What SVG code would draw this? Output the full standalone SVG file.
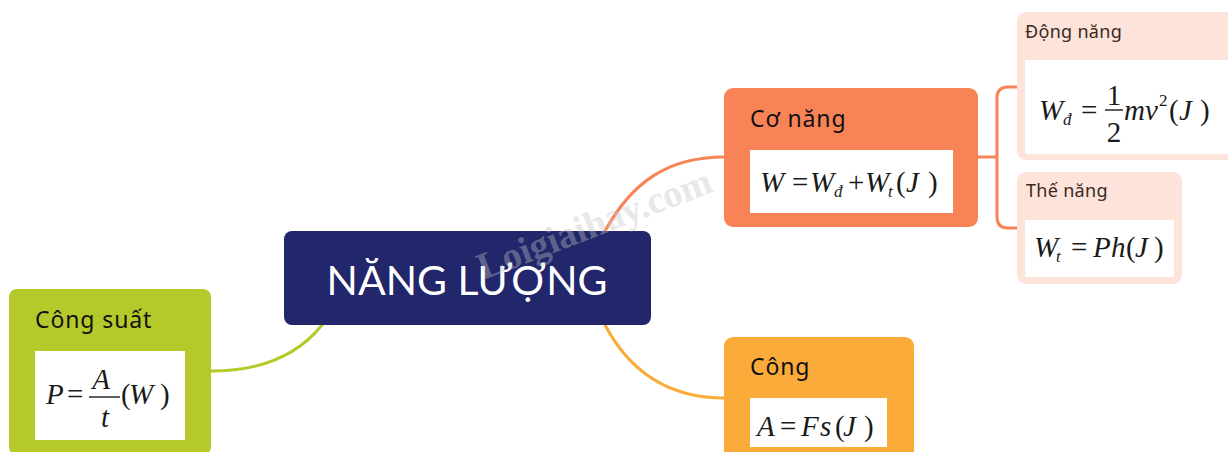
<svg xmlns="http://www.w3.org/2000/svg" width="1228" height="452" viewBox="0 0 1228 452">
  <style>
    .title { font-family: "Noto Sans", "Open Sans", sans-serif; fill: #111111; }
    .t1 { font-size: 23px; letter-spacing: 0.9px; }
    .t2 { font-size: 18px; letter-spacing: 0.3px; fill: #3a2a22; }
    .m { font-family: "Liberation Serif", "Times New Roman", serif; font-size: 29px; fill: #1a1a1a; }
    .i { font-style: italic; }
    .sub { font-size: 17px; font-style: italic; }
    .box { fill: #ffffff; }
    .bar { stroke: #1a1a1a; stroke-width: 1.4; }
    .link { fill: none; stroke-width: 3; stroke-linecap: round; }
    .wm { font-family: "Liberation Serif", serif; font-weight: bold; font-size: 38px; fill: #c4c4c4; fill-opacity: 0.4; }
  </style>

  <rect width="1228" height="452" fill="#ffffff"/>

  <!-- connectors -->
  <g id="connectors">
    <path class="link" stroke="#b6c92b" d="M211,371 C268,371 302,350 322,325"/>
    <path class="link" stroke="#f88357" d="M605,231 C632,182 668,157 724,157"/>
    <path class="link" stroke="#fbab3a" d="M605,325 C630,372 668,398 724,398"/>
    <path class="link" stroke="#f88357" stroke-width="2.5" d="M978,157 H997 M1017,87 H1008 Q997,87 997,98 V217 Q997,228 1008,228 H1017"/>
  </g>

  <!-- central topic -->
  <g id="nang-luong">
    <rect x="284" y="231" width="367" height="94" rx="8" fill="#21276a"/>
    <text x="467" y="295" text-anchor="middle" font-family="Lato, 'Noto Sans', sans-serif" font-size="41" fill="#ffffff">NĂNG LƯỢNG</text>
  </g>

  <!-- power: P = A/t (W) -->
  <g id="cong-suat">
    <rect x="9" y="289" width="202" height="166" rx="8" fill="#b6c92b"/>
    <text class="title t1" x="35" y="328">Công suất</text>
    <rect class="box" x="35" y="351" width="150" height="89"/>
    <text class="m" y="404"><tspan class="i" x="46">P</tspan><tspan x="67">=</tspan></text>
    <text class="m i" x="101" y="389" text-anchor="middle">A</text>
    <line class="bar" x1="89" y1="397" x2="120" y2="397"/>
    <text class="m i" x="105" y="427" text-anchor="middle">t</text>
    <text class="m" y="404"><tspan x="121">(</tspan><tspan class="i" x="129">W</tspan><tspan x="160">)</tspan></text>
  </g>

  <!-- mechanical energy: W = Wđ + Wt (J) -->
  <g id="co-nang">
    <rect x="724" y="88" width="254" height="139" rx="9" fill="#f88357"/>
    <text class="title t1" x="750" y="127">Cơ năng</text>
    <rect class="box" x="750" y="150" width="203" height="63"/>
    <text class="m" y="192"><tspan class="i" x="760">W</tspan><tspan x="792">=</tspan><tspan class="i" x="810">W</tspan><tspan class="sub" x="834" y="197">đ</tspan><tspan x="848" y="192">+</tspan><tspan class="i" x="865">W</tspan><tspan class="sub" x="888" y="197">t</tspan><tspan x="896" y="192">(</tspan><tspan class="i" x="906">J</tspan><tspan x="928">)</tspan></text>
  </g>

  <!-- kinetic energy: Wđ = 1/2 mv² (J) -->
  <g id="dong-nang">
    <rect x="1017" y="12" width="222" height="148" rx="9" fill="#fde3da"/>
    <text class="title t2" x="1025" y="38">Động năng</text>
    <rect class="box" x="1025" y="60" width="210" height="94"/>
    <text class="m" y="120"><tspan class="i" x="1039">W</tspan><tspan class="sub" x="1063" y="125">đ</tspan><tspan x="1081" y="120">=</tspan></text>
    <text class="m" x="1114" y="105" text-anchor="middle">1</text>
    <line class="bar" x1="1105" y1="110" x2="1123" y2="110"/>
    <text class="m" x="1114" y="142" text-anchor="middle">2</text>
    <text class="m" y="120"><tspan class="i" x="1124">m</tspan><tspan class="i" x="1145">v</tspan><tspan font-size="17" x="1159" y="106">2</tspan><tspan x="1169" y="120">(</tspan><tspan class="i" x="1179">J</tspan><tspan x="1200">)</tspan></text>
  </g>

  <!-- potential energy: Wt = Ph (J) -->
  <g id="the-nang">
    <rect x="1017" y="172" width="165" height="112" rx="9" fill="#fde3da"/>
    <text class="title t2" x="1026" y="197">Thế năng</text>
    <rect class="box" x="1025" y="220" width="149" height="57"/>
    <text class="m" y="257"><tspan class="i" x="1034">W</tspan><tspan class="sub" x="1056" y="262">t</tspan><tspan x="1071" y="257">=</tspan><tspan class="i" x="1093">P</tspan><tspan class="i" x="1111">h</tspan><tspan x="1126">(</tspan><tspan class="i" x="1135">J</tspan><tspan x="1154">)</tspan></text>
  </g>

  <!-- work: A = Fs (J) -->
  <g id="cong">
    <rect x="724" y="337" width="190" height="125" rx="9" fill="#fbab3a"/>
    <text class="title t1" x="750" y="375">Công</text>
    <rect class="box" x="750" y="398" width="137" height="49"/>
    <text class="m" y="436"><tspan class="i" x="757">A</tspan><tspan x="780">=</tspan><tspan class="i" x="801">F</tspan><tspan class="i" x="820">s</tspan><tspan x="835">(</tspan><tspan class="i" x="843">J</tspan><tspan x="864">)</tspan></text>
  </g>

  <!-- watermark -->
  <text class="wm" x="0" y="0" transform="translate(483,280) rotate(-21)">Loigiaihay.com</text>
</svg>
